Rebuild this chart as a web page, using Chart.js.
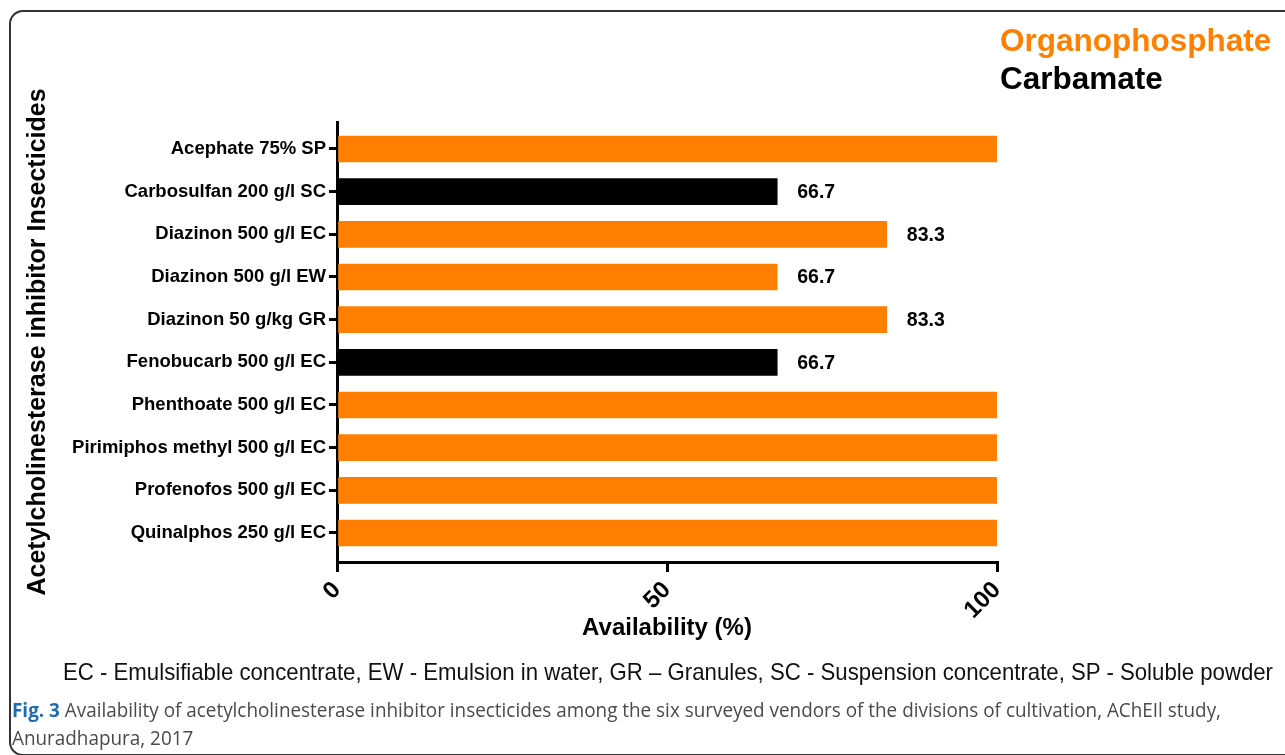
<!DOCTYPE html>
<html>
<head>
<meta charset="utf-8">
<script src="https://cdn.jsdelivr.net/npm/chart.js@4.4.1/dist/chart.umd.min.js"></script>
<style>
  body { margin: 0; background: #fff; width: 1285px; height: 755px; overflow: hidden; position: relative; font-family: "Liberation Sans", Arial, sans-serif; }
  #frame { position: absolute; left: 9px; top: 10px; width: 1300px; height: 742px; border: 2px solid #333; border-radius: 14px; }
  #chart { position: absolute; left: 0; top: 0; }
  .leg { position: absolute; left: 1000px; font-weight: bold; font-size: 31.5px; line-height: 36px; white-space: nowrap; }
  .fit { position: absolute; white-space: nowrap; transform-origin: left center; }
  #note { left: 63px; top: 658px; font-size: 24px; line-height: 28px; color: #111; }
  .cap { left: 12px; font-family: "Open Sans", sans-serif; font-size: 19.5px; line-height: 24px; color: #4a4a4a; }
  .cap b { color: #1d6cb0; }
</style>
</head>
<body>
<div id="frame"></div>
<canvas id="chart" width="1285" height="755"></canvas>
<div class="leg" style="top:22px;color:#ff8000">Organophosphate</div>
<div class="leg" style="top:60px;color:#000">Carbamate</div>
<div id="note" class="fit" data-w="1210">EC - Emulsifiable concentrate, EW - Emulsion in water, GR – Granules, SC - Suspension concentrate, SP - Soluble powder</div>
<div class="fit cap" style="top:698px" data-w="1209"><b>Fig. 3</b> Availability of acetylcholinesterase inhibitor insecticides among the six surveyed vendors of the divisions of cultivation, AChEIl study,</div>
<div class="fit cap" style="top:726px">Anuradhapura, 2017</div>
<script>
// data
const insecticides = [
  'Acephate 75% SP',
  'Carbosulfan 200 g/l SC',
  'Diazinon 500 g/l EC',
  'Diazinon 500 g/l EW',
  'Diazinon 50 g/kg GR',
  'Fenobucarb 500 g/l EC',
  'Phenthoate 500 g/l EC',
  'Pirimiphos methyl 500 g/l EC',
  'Profenofos 500 g/l EC',
  'Quinalphos 250 g/l EC'
];
const availability = [100, 66.7, 83.3, 66.7, 83.3, 66.7, 100, 100, 100, 100];
const insecticideClass = ['OP', 'C', 'OP', 'OP', 'OP', 'C', 'OP', 'OP', 'OP', 'OP'];
const xTicks = [0, 50, 100];

const ORANGE = '#ff8000';
const BLACK = '#000000';

// squeeze the text lines to the width they take in the figure
document.querySelectorAll('.fit[data-w]').forEach((el) => {
  const w = el.getBoundingClientRect().width;
  el.style.transform = `scaleX(${+el.dataset.w / w})`;
});
const caps = document.querySelectorAll('.cap');
caps[1].style.transform = caps[0].style.transform;

Chart.defaults.font.family = '"Liberation Sans", Arial, sans-serif';
Chart.defaults.color = '#000';

// writes the value next to each bar that is not full
const valueLabels = {
  id: 'valueLabels',
  afterDatasetsDraw(chart) {
    const ctx = chart.ctx;
    const meta = chart.getDatasetMeta(0);
    ctx.save();
    ctx.font = 'bold 19.5px "Liberation Sans", Arial, sans-serif';
    ctx.fillStyle = '#000';
    ctx.textBaseline = 'middle';
    ctx.textAlign = 'left';
    meta.data.forEach((bar, i) => {
      if (availability[i] >= 100) return;
      ctx.fillText(availability[i].toFixed(1), bar.x + 20, bar.y + 1);
    });
    ctx.restore();
  }
};

new Chart(document.getElementById('chart'), {
  type: 'bar',
  data: {
    datasets: [{
      data: availability.map((v, i) => ({ x: v, y: i })),
      backgroundColor: insecticideClass.map((c) => (c === 'C' ? BLACK : ORANGE)),
      barThickness: 26,
      borderWidth: 0
    }]
  },
  options: {
    indexAxis: 'y',
    responsive: false,
    animation: false,
    layout: { padding: { left: 20, top: 122, right: 288, bottom: 105 } },
    plugins: { legend: { display: false }, tooltip: { enabled: false } },
    scales: {
      x: {
        type: 'linear',
        min: 0,
        max: 100,
        offset: false,
        afterBuildTicks: (axis) => { axis.ticks = xTicks.map((v) => ({ value: v })); },
        afterFit: (axis) => { axis.height = 88; },
        border: { color: '#000', width: 3 },
        grid: { drawOnChartArea: false, offset: false, color: '#000', lineWidth: 3, tickLength: 10 },
        ticks: {
          minRotation: 45,
          maxRotation: 45,
          padding: 4,
          font: { size: 24, weight: 'bold' },
          color: '#000'
        },
        title: {
          display: true,
          text: 'Availability (%)',
          font: { size: 24, weight: 'bold' },
          color: '#000',
          padding: { top: 0, bottom: 7 }
        }
      },
      y: {
        type: 'linear',
        reverse: true,
        offset: false,
        min: -0.632,
        max: 9.68,
        afterBuildTicks: (axis) => { axis.ticks = insecticides.map((_, i) => ({ value: i })); },
        afterFit: (axis) => { axis.width = 317; },
        border: { color: '#000', width: 3 },
        grid: { drawOnChartArea: false, offset: false, color: '#000', lineWidth: 3, tickLength: 8 },
        ticks: {
          autoSkip: false,
          padding: 3,
          font: { size: 18.5, weight: 'bold' },
          color: '#000',
          callback: (v) => insecticides[v]
        },
        title: {
          display: true,
          text: 'Acetylcholinesterase inhibitor Insecticides',
          font: { size: 25, weight: 'bold' },
          color: '#000',
          padding: { top: 3, bottom: 0 }
        }
      }
    }
  },
  plugins: [valueLabels]
});
</script>
</body>
</html>
